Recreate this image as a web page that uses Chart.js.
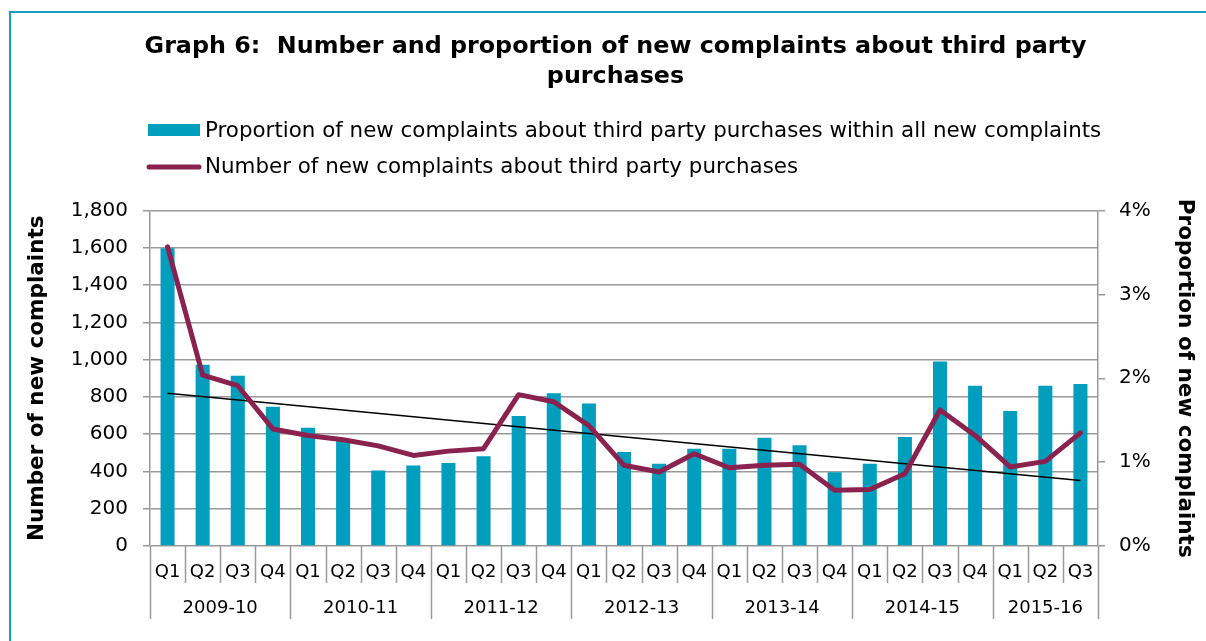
<!DOCTYPE html>
<html><head><meta charset="utf-8">
<script src="https://cdn.jsdelivr.net/npm/chart.js@4/dist/chart.umd.min.js"></script>
<style>html,body{margin:0;padding:0;background:#fff}#wrap{position:relative;width:1206px;height:641px}</style>
</head><body><div id="wrap"><canvas id="c"></canvas></div>
<script>
const titleLines = ['Graph 6:  Number and proportion of new complaints about third party', 'purchases'];
const quarters = ['Q1','Q2','Q3','Q4','Q1','Q2','Q3','Q4','Q1','Q2','Q3','Q4','Q1','Q2','Q3','Q4','Q1','Q2','Q3','Q4','Q1','Q2','Q3','Q4','Q1','Q2','Q3'];
const years = ['2009-10','2010-11','2011-12','2012-13','2013-14','2014-15','2015-16'];
const quartersPerYear = [4,4,4,4,4,4,3];
const proportionPct = [3.55,2.16,2.03,1.66,1.41,1.27,0.90,0.96,0.99,1.07,1.55,1.82,1.70,1.12,0.98,1.16,1.16,1.29,1.20,0.88,0.98,1.30,2.20,1.91,1.61,1.91,1.93];
const newComplaints = [1605,917,860,628,593,570,537,486,509,522,812,774,646,433,397,495,420,433,438,299,303,388,730,593,424,454,607];
const trendEnds = [820,352];
const seriesNames = ['Proportion of new complaints about third party purchases within all new complaints','Number of new complaints about third party purchases'];
const leftAxisTitle = 'Number of new complaints';
const rightAxisTitle = 'Proportion of new complaints';

const TEAL = '#009EBD', PURPLE = '#8A2250', GRID = '#999999', FRAME = '#1B9EC2';
const FONT = "'DejaVu Sans', Verdana, sans-serif";
Chart.defaults.font.family = FONT;
Chart.defaults.color = '#000';

const trendData = newComplaints.map((_, i) => i === 0 ? trendEnds[0] : (i === newComplaints.length - 1 ? trendEnds[1] : null));

const decor = {
  id: 'decor',
  beforeDraw(chart) {
    const ctx = chart.ctx;
    ctx.save();
    ctx.fillStyle = '#fff';
    ctx.fillRect(0, 0, chart.width, chart.height);
    ctx.strokeStyle = FRAME; ctx.lineWidth = 2;
    ctx.beginPath();
    ctx.moveTo(10, chart.height); ctx.lineTo(10, 12); ctx.lineTo(chart.width, 12);
    ctx.stroke();
    ctx.restore();
  },
  afterDraw(chart) {
    const ctx = chart.ctx;
    const xs = chart.scales.x;
    const ca = chart.chartArea;
    const n = quarters.length;
    const w = (xs.getPixelForValue(1) - xs.getPixelForValue(0));
    const edge = i => xs.getPixelForValue(i) - w / 2;
    const yearStarts = [0];
    quartersPerYear.forEach(c => yearStarts.push(yearStarts[yearStarts.length - 1] + c));
    ctx.save();
    ctx.strokeStyle = GRID; ctx.lineWidth = 1.5;
    for (let i = 0; i <= n; i++) {
      const x = Math.round(edge(i)) + 0.5;
      const long = yearStarts.includes(i);
      ctx.beginPath();
      ctx.moveTo(x, ca.bottom);
      ctx.lineTo(x, long ? ca.bottom + 73 : ca.bottom + 37);
      ctx.stroke();
    }
    ctx.fillStyle = '#000';
    ctx.font = '18px ' + FONT;
    ctx.textAlign = 'center'; ctx.textBaseline = 'middle';
    years.forEach((y, k) => {
      const s = yearStarts[k], e = yearStarts[k + 1];
      ctx.fillText(y, (edge(s) + edge(e)) / 2, ca.bottom + 62);
    });
    // legend
    ctx.textAlign = 'left';
    ctx.font = '21.4px ' + FONT;
    ctx.fillStyle = TEAL;
    ctx.fillRect(148, 124, 52, 12);
    ctx.fillStyle = '#000';
    ctx.fillText(seriesNames[0], 205, 131);
    ctx.strokeStyle = PURPLE; ctx.lineWidth = 5; ctx.lineCap = 'round';
    ctx.beginPath(); ctx.moveTo(149, 167); ctx.lineTo(199, 167); ctx.stroke();
    ctx.fillText(seriesNames[1], 205, 167);
    ctx.restore();
  }
};

new Chart(document.getElementById('c'), {
  data: {
    labels: quarters,
    datasets: [
      { type: 'line', label: seriesNames[1], data: newComplaints, yAxisID: 'y', borderColor: PURPLE, borderWidth: 5, pointRadius: 0, borderJoinStyle: 'round', borderCapStyle: 'round', tension: 0, order: 0 },
      { type: 'line', label: 'Trend', data: trendData, yAxisID: 'y', borderColor: '#000', borderWidth: 1.5, pointRadius: 0, spanGaps: true, order: 1 },
      { type: 'bar', label: seriesNames[0], data: proportionPct, yAxisID: 'y1', backgroundColor: TEAL, barPercentage: 0.4, categoryPercentage: 1.0, order: 2 }
    ]
  },
  options: {
    responsive: true, maintainAspectRatio: false, animation: false,
    layout: { padding: { left: 25, right: 0, top: 0, bottom: 0 } },
    plugins: {
      legend: { display: false },
      tooltip: { enabled: false },
      title: { display: true, text: titleLines, color: '#000', font: { size: 23.8, weight: 'bold', lineHeight: 1.25 }, padding: { top: 32, bottom: 119 } }
    },
    scales: {
      x: {
        type: 'category', offset: true,
        grid: { display: false },
        border: { display: false },
        ticks: { font: { size: 18 }, color: '#000', padding: 8, maxRotation: 0, autoSkip: false },
        afterFit(s) { s.height = 95; }
      },
      y: {
        position: 'left', min: 0, max: 1800,
        ticks: { stepSize: 200, font: { size: 20 }, color: '#000', padding: 15, callback: v => v.toLocaleString('en-US') },
        grid: { color: GRID, lineWidth: 1.5, tickLength: 7, drawTicks: true },
        border: { color: GRID, width: 1.5 },
        title: { display: true, text: leftAxisTitle, color: '#000', font: { size: 21.5, weight: 'bold' }, padding: { top: 0, bottom: 0 } },
        afterFit(s) { s.width = 125; }
      },
      y1: {
        position: 'right', min: 0, max: 4,
        ticks: { stepSize: 1, font: { size: 20 }, color: '#000', padding: 14, callback: v => v + '%' },
        grid: { drawOnChartArea: false, color: GRID, lineWidth: 1.5, tickLength: 7, drawTicks: true },
        border: { color: GRID, width: 1.5 },
        title: { display: true, text: rightAxisTitle, color: '#000', font: { size: 21.5, weight: 'bold' }, padding: { top: 9, bottom: 0 } },
        afterFit(s) { s.width = 108; }
      }
    }
  },
  plugins: [decor]
});
</script></body></html>
